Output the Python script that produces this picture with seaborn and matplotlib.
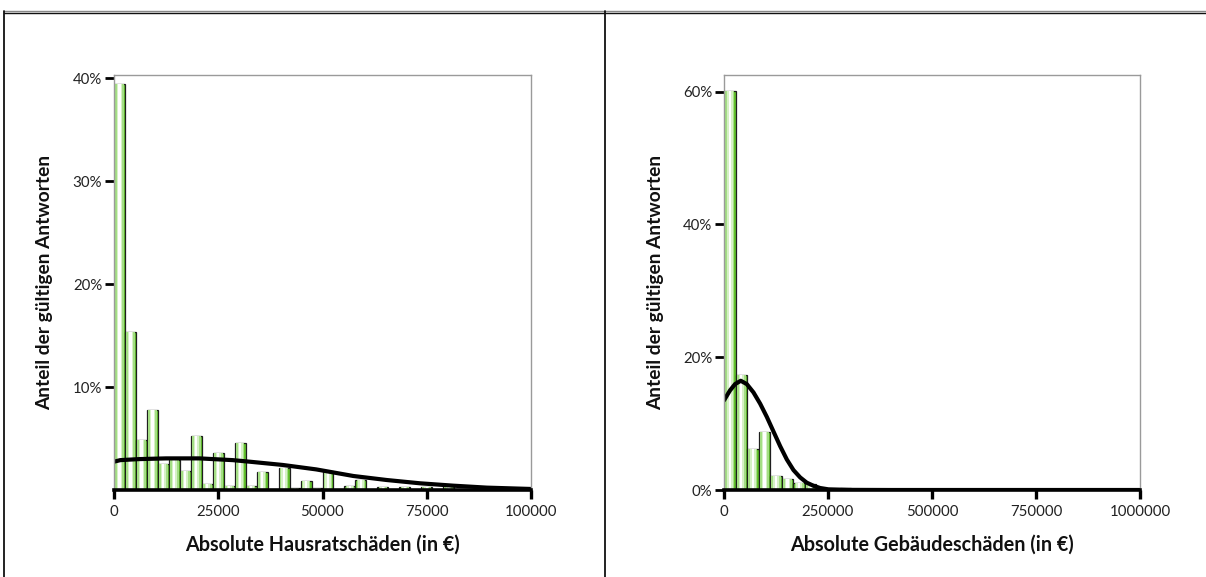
import numpy as np
import pandas as pd
import matplotlib
matplotlib.use("Agg")
import matplotlib.pyplot as plt
import seaborn as sns
from matplotlib.lines import Line2D

# ---------------- data ----------------
# Left: Hausrat damages, 38 bins over 0..100000, share in %
hausrat_pct = [39.4, 15.3, 4.85, 7.8, 2.5, 2.9, 1.8, 5.2, 0.55, 3.6,
               0.4, 4.6, 0.4, 1.7, 0.0, 2.1, 0.15, 0.85, 0.15, 1.8,
               0.0, 0.39, 0.97, 0.0, 0.26, 0.0, 0.26, 0.0, 0.26, 0.0,
               0.42, 0.0, 0.0, 0.0, 0.1, 0.0, 0.0, 0.0]
hausrat_curve_x = [0, 1500, 6000, 12500, 20500, 28500, 32500, 40500, 48500,
                   57400, 65400, 73400, 81400, 89400, 100000]
hausrat_curve_y = [2.75, 2.9, 3.0, 3.07, 3.07, 2.9, 2.75, 2.43, 2.0,
                   1.36, 0.97, 0.65, 0.42, 0.23, 0.1]

# Right: Gebäude damages, 36 bins over 0..1000000, share in %
gebaeude_pct = [60.1, 17.3, 6.2, 8.8, 2.1, 1.7, 1.1, 0.9, 0.2, 0.0,
                0.35, 0.0, 0.0, 0.0, 0.0, 0.0, 0.0, 0.0, 0.0, 0.0,
                0.0, 0.0, 0.0, 0.0, 0.0, 0.0, 0.0, 0.0, 0.0, 0.0,
                0.0, 0.0, 0.0, 0.0, 0.0, 0.0]
gebaeude_curve_x = [0, 14500, 26600, 40300, 54800, 70800, 86900, 103000,
                    119000, 135000, 151000, 167000, 183000, 199000, 215000,
                    231000, 251000, 300000, 400000, 1000000]
gebaeude_curve_y = [13.5, 15.0, 15.95, 16.45, 15.95, 14.7, 13.0, 11.0,
                    8.8, 6.6, 4.6, 3.0, 1.9, 1.1, 0.64,
                    0.3, 0.1, 0.02, 0.0, 0.0]

hausrat_xmax = 100000
gebaeude_xmax = 1000000
hausrat_xticks = [0, 25000, 50000, 75000, 100000]
gebaeude_xticks = [0, 250000, 500000, 750000, 1000000]
hausrat_yticks = [10, 20, 30, 40]
gebaeude_yticks = [0, 20, 40, 60]

xlabel_left = "Absolute Hausratschäden (in €)"
xlabel_right = "Absolute Gebäudeschäden (in €)"
ylabel = "Anteil der gültigen Antworten"

# ---------------- style ----------------
sns.set_style("white")
plt.rcParams["font.family"] = ["Lato", "DejaVu Sans"]

W, H = 1206, 577
fig = plt.figure(figsize=(W / 100, H / 100), dpi=100)

def px_axes(x0, x1, ytop, ybot):
    return fig.add_axes([x0 / W, 1 - ybot / H, (x1 - x0) / W, (ybot - ytop) / H])

ax1 = px_axes(114, 531, 75, 490)
ax2 = px_axes(724, 1140, 75, 490)


def draw_hist(ax, pct, xmax, curve_x, curve_y):
    n = len(pct)
    edges = [float(e) for e in np.linspace(0, xmax, n + 1)]
    centers = [(edges[i] + edges[i + 1]) / 2 for i in range(n)]
    df = pd.DataFrame({"x": centers, "w": [float(p) for p in pct]})
    # cylinder-like bars: base + lighter inner stripes
    sns.histplot(data=df, x="x", weights="w", bins=edges, ax=ax,
                 color="#62c22c", edgecolor="#1e1e1e", linewidth=0.9,
                 alpha=1)
    sns.histplot(data=df, x="x", weights="w", bins=edges, ax=ax, shrink=0.78,
                 color="#a4de84", edgecolor="none", linewidth=0, alpha=1)
    sns.histplot(data=df, x="x", weights="w", bins=edges, ax=ax, shrink=0.48,
                 color="#d6f1c6", edgecolor="none", linewidth=0, alpha=1)
    sns.histplot(data=df, x="x", weights="w", bins=edges, ax=ax, shrink=0.2,
                 color="#ffffff", edgecolor="none", linewidth=0, alpha=1)
    cdf = pd.DataFrame({"x": curve_x, "y": curve_y})
    sns.lineplot(data=cdf, x="x", y="y", ax=ax, color="black", linewidth=3.0)


def style_axes(ax, xmax, xticks, yticks, ymax, xlabel):
    ax.set_xlim(0, xmax)
    ax.set_ylim(0, ymax)
    ax.set_xticks(xticks)
    ax.set_xticklabels([str(t) for t in xticks])
    ax.set_yticks(yticks)
    ax.set_yticklabels([f"{t}%" for t in yticks])
    for s in ["top", "right", "left"]:
        ax.spines[s].set_visible(True)
        ax.spines[s].set_color("#9a9a9a")
        ax.spines[s].set_linewidth(1.0)
    ax.spines["bottom"].set_color("black")
    ax.spines["bottom"].set_linewidth(2.6)
    ax.tick_params(axis="y", which="major", left=True, length=6.5, width=2.0,
                   color="black", direction="out", pad=2, labelsize=10.8,
                   labelcolor="#222222")
    ax.tick_params(axis="x", which="major", bottom=True, length=6.5, width=2.4,
                   color="black", direction="out", pad=4, labelsize=10.8,
                   labelcolor="#222222")
    ax.set_xlabel(xlabel, fontsize=14.2, fontweight="bold", color="#111111")
    ax.set_ylabel(ylabel, fontsize=13.8, fontweight="bold", color="#111111")
    ax.xaxis.label.set_va("center")
    ax.yaxis.label.set_va("center")
    ax.xaxis.set_label_coords(0.5, -0.1325)
    ax.grid(False)


draw_hist(ax1, hausrat_pct, hausrat_xmax, hausrat_curve_x, hausrat_curve_y)
draw_hist(ax2, gebaeude_pct, gebaeude_xmax, gebaeude_curve_x, gebaeude_curve_y)
style_axes(ax1, hausrat_xmax, hausrat_xticks, hausrat_yticks, 40.3, xlabel_left)
style_axes(ax2, gebaeude_xmax, gebaeude_xticks, gebaeude_yticks, 62.5, xlabel_right)
ax1.yaxis.set_label_coords((45 - 114) / 417, 0.5)
ax2.yaxis.set_label_coords((656 - 724) / 416, 0.5)

# table-like frame lines
fig.add_artist(Line2D([4 / W, 1.0], [1 - 11 / H, 1 - 11 / H], color="#888888", linewidth=1.0))
fig.add_artist(Line2D([4 / W, 1.0], [1 - 12.5 / H, 1 - 12.5 / H], color="#111111", linewidth=1.0))
fig.add_artist(Line2D([4 / W, 4 / W], [0, 1 - 11 / H], color="#111111", linewidth=1.3))
fig.add_artist(Line2D([605 / W, 605 / W], [0, 1 - 11 / H], color="#111111", linewidth=1.3))

fig.savefig("out.png", dpi=100, facecolor="white")
